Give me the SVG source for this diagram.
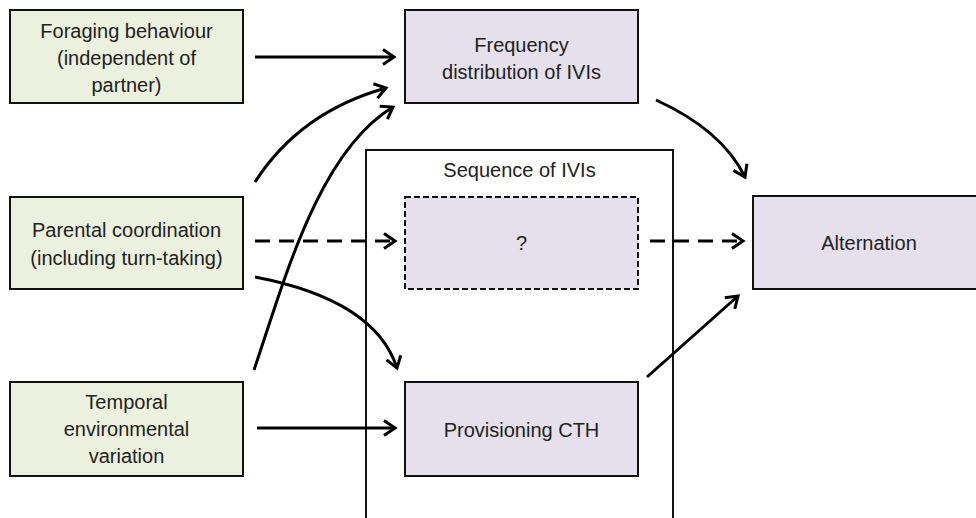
<svg xmlns="http://www.w3.org/2000/svg" width="976" height="518" viewBox="0 0 976 518">
<defs>
<marker id="arr" markerUnits="userSpaceOnUse" markerWidth="16" markerHeight="18" viewBox="0 0 16 18" refX="13" refY="9" orient="auto">
<path d="M2,1.5 L13,9 L2,16.5" fill="none" stroke="#000" stroke-width="3" stroke-linejoin="miter"/>
</marker>
<style>
.box{stroke:#111;stroke-width:2}
.g{fill:#ebf1de}
.p{fill:#e5e0ec}
text{font-family:"Liberation Sans",Arial,sans-serif;font-size:20px;fill:#222;text-anchor:middle}
.c{fill:none;stroke:#000;stroke-width:3;marker-end:url(#arr)}
.d{stroke-dasharray:15 9}
</style>
</defs>
<g id="container">
<rect x="366" y="150" width="307" height="400" fill="none" stroke="#111" stroke-width="2"/>
<text x="519.5" y="177">Sequence of IVIs</text>
</g>
<g id="foraging">
<rect class="box g" x="10" y="10" width="233" height="93"/>
<text x="126.5" y="38">Foraging behaviour</text>
<text x="126.5" y="65">(independent of</text>
<text x="126.5" y="92">partner)</text>
</g>
<g id="parental">
<rect class="box g" x="10" y="197" width="233" height="92"/>
<text x="126.5" y="237">Parental coordination</text>
<text x="126.5" y="265">(including turn-taking)</text>
</g>
<g id="temporal">
<rect class="box g" x="10" y="382" width="233" height="94"/>
<text x="126.5" y="409">Temporal</text>
<text x="126.5" y="436">environmental</text>
<text x="126.5" y="463">variation</text>
</g>
<g id="frequency">
<rect class="box p" x="405" y="10" width="233" height="93"/>
<text x="521.5" y="52">Frequency</text>
<text x="521.5" y="79">distribution of IVIs</text>
</g>
<g id="unknown">
<rect x="405" y="197" width="233" height="92" fill="#e5e0ec" stroke="#111" stroke-width="2" stroke-dasharray="6 3"/>
<text x="521.5" y="250">?</text>
</g>
<g id="provisioning">
<rect class="box p" x="405" y="382" width="233" height="94"/>
<text x="521.5" y="437">Provisioning CTH</text>
</g>
<g id="alternation">
<rect class="box p" x="753" y="196" width="232" height="93"/>
<text x="869" y="250">Alternation</text>
</g>
<g id="connectors">
<path class="c" d="M255,57 L394,57"/>
<path class="c" d="M255,182 Q300,112 386,88"/>
<path class="c" d="M254,370 C284,282 318,152 393,107"/>
<path class="c d" d="M255,241 L395,241"/>
<path class="c d" d="M650,241 L743,241"/>
<path class="c" d="M255,277 Q375,300 397,368"/>
<path class="c" d="M257,428 L395,428"/>
<path class="c" d="M656,100 Q722,130 745,177"/>
<path class="c" d="M647,377 L738,296"/>
</g>
</svg>
